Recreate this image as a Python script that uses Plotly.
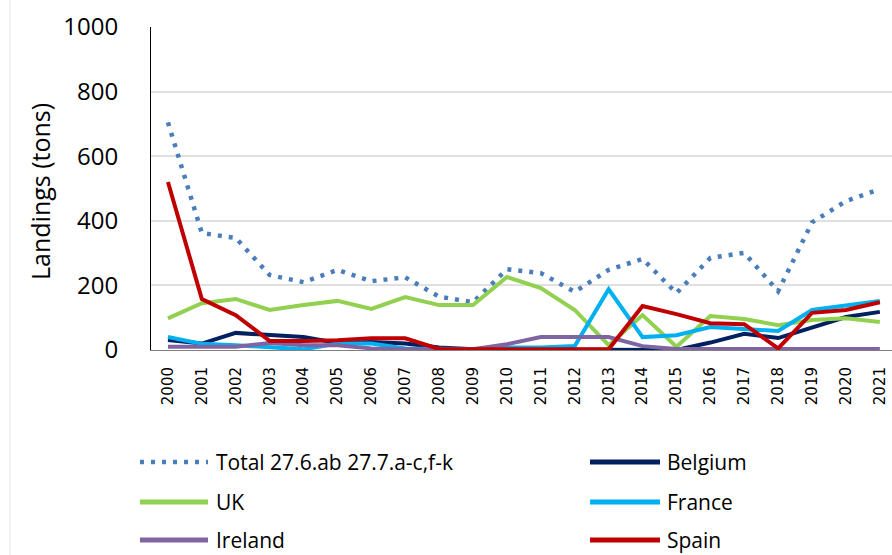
import plotly.graph_objects as go

# Annual landings (tons) by country, 2000-2021
years = [str(y) for y in range(2000, 2022)]
total = [705, 362, 347, 232, 210, 248, 213, 225, 165, 148, 250,
         238, 180, 248, 282, 176, 285, 301, 182, 395, 461, 498]
belgium = [31, 20, 53, 46, 40, 22, 25, 20, 8, 2, 2,
           2, 2, 2, 2, 0, 23, 50, 37, 71, 102, 118]
uk = [98, 145, 158, 124, 139, 152, 127, 164, 139, 139, 226,
      192, 124, 15, 108, 10, 105, 96, 77, 93, 98, 87]
france = [40, 19, 15, 10, 2, 20, 20, 5, 3, 3, 8,
          8, 12, 188, 40, 46, 71, 65, 59, 124, 139, 152]
ireland = [10, 10, 10, 22, 15, 15, 5, 2, 2, 2, 18,
           40, 40, 40, 12, 3, 3, 3, 3, 3, 3, 3]
spain = [520, 158, 108, 28, 28, 30, 36, 36, 3, 2, 2,
         2, 2, 2, 136, 111, 83, 80, 5, 115, 124, 148]
y_ticks = [0, 200, 400, 600, 800, 1000]

series = [
    ("Total 27.6.ab 27.7.a-c,f-k", total, "#4A7EBB", "dot"),
    ("Belgium", belgium, "#002060", "solid"),
    ("UK", uk, "#92D050", "solid"),
    ("France", france, "#00B0F0", "solid"),
    ("Ireland", ireland, "#8064A2", "solid"),
    ("Spain", spain, "#C00000", "solid"),
]

W, H = 892, 555
L, R, T, B = 151, 0, 27, 205
PW, PH = W - L - R, H - T - B
MAIN_FONT = "Open Sans"


def px_x(px):
    return (px - L) / PW


def px_y(py):
    return (H - B - py) / PH


fig = go.Figure()
for name, vals, color, style in series:
    fig.add_trace(go.Scatter(
        x=years, y=vals, mode="lines", name=name, showlegend=False,
        cliponaxis=False,
        line=dict(color=color, width=4.5 if style == "dot" else 4,
                  dash="4px,7px" if style == "dot" else "solid"),
    ))

shapes = []
annotations = []

# two-column key below the chart
key_rows = [462, 502, 540]
key_cols = [(140, 208, 214), (590, 660, 665)]
for i, (name, vals, color, style) in enumerate(series):
    row, col = divmod(i, 2)
    x0, x1, tx = key_cols[col]
    yy = px_y(key_rows[row])
    shapes.append(dict(
        type="line", xref="paper", yref="paper",
        x0=px_x(x0), x1=px_x(x1), y0=yy, y1=yy,
        line=dict(color=color, width=4.5 if style == "dot" else 5,
                  dash="4px,7px" if style == "dot" else "solid"),
    ))
    annotations.append(dict(
        xref="paper", yref="paper", x=px_x(tx), y=yy,
        xanchor="left", yanchor="middle", showarrow=False, text=name,
        font=dict(family=MAIN_FONT, size=21, color="#000000"),
    ))

# faint frame edge on the left
shapes.append(dict(
    type="line", xref="paper", yref="paper",
    x0=px_x(10), x1=px_x(10), y0=px_y(0), y1=px_y(H),
    line=dict(color="#E4E4E4", width=1),
))

annotations.append(dict(
    xref="paper", yref="paper", x=px_x(40), y=px_y(192),
    xanchor="center", yanchor="middle", textangle=-90, showarrow=False,
    text="Landings (tons)",
    font=dict(family=MAIN_FONT, size=25, color="#000000"),
))

fig.update_layout(
    width=W, height=H, autosize=False,
    margin=dict(l=L, r=R, t=T, b=B, pad=0),
    paper_bgcolor="white", plot_bgcolor="white",
    shapes=shapes, annotations=annotations,
    xaxis=dict(
        type="category", range=[-0.5, -0.5 + PW / 33.9],
        tickangle=-90, ticks="", showgrid=False,
        showline=True, linecolor="#808080", linewidth=1,
        tickfont=dict(family="DejaVu Sans", size=15, color="#000000"),
        ticklabelstandoff=10,
    ),
    yaxis=dict(
        range=[0, 1000], tickvals=y_ticks, ticks="",
        showgrid=True, gridcolor="#E0E0E0", gridwidth=1.5,
        showline=True, linecolor="#000000", linewidth=1,
        zeroline=False,
        tickfont=dict(family=MAIN_FONT, size=24, color="#000000"),
        ticklabelstandoff=27,
    ),
)

fig.write_html("out.html")
